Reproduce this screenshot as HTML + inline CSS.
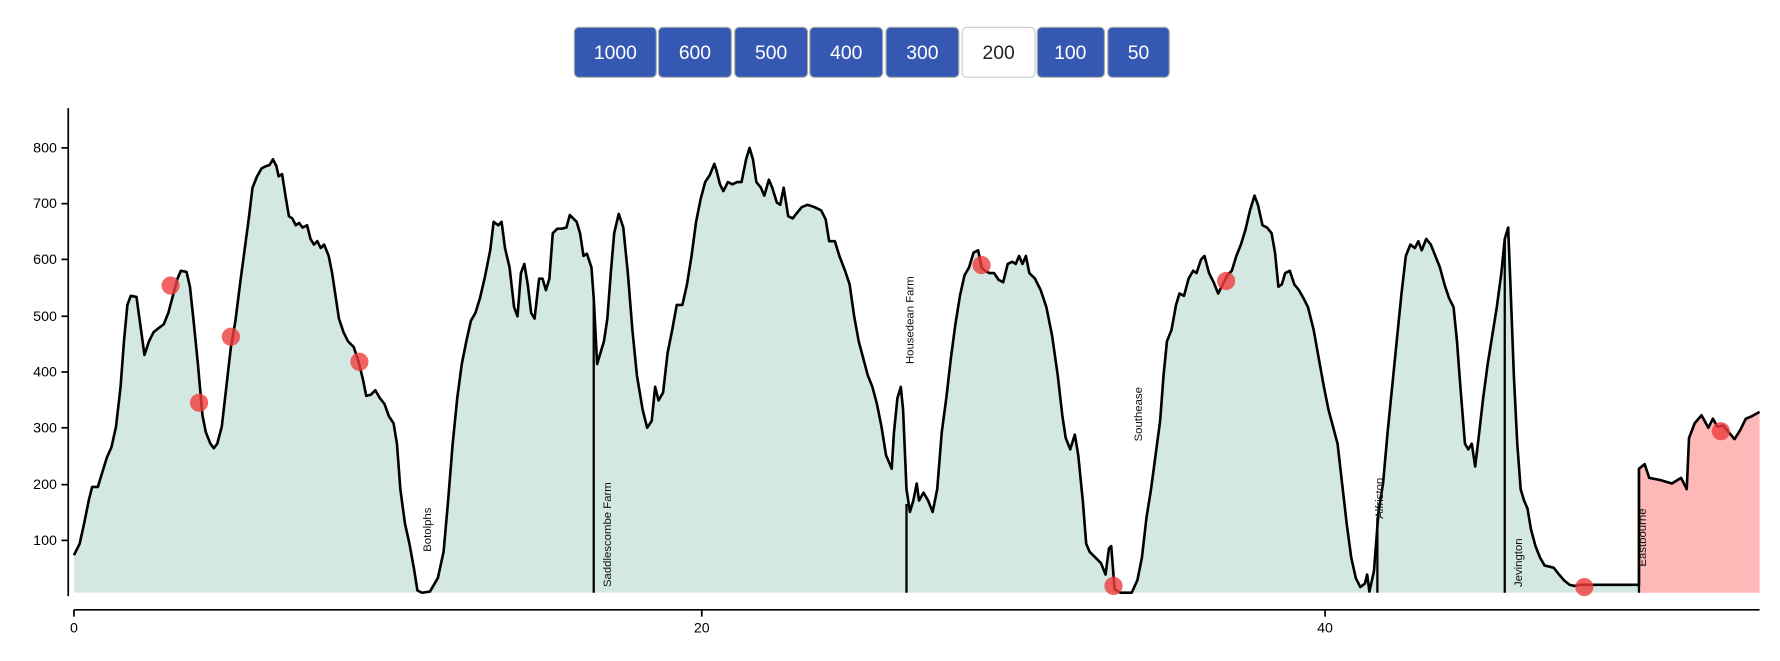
<!DOCTYPE html>
<html><head><meta charset="utf-8"><style>
html,body{margin:0;padding:0;background:#fff;}
svg{display:block;}
</style></head><body>
<svg width="1780" height="661" viewBox="0 0 1565 581" preserveAspectRatio="none" xmlns="http://www.w3.org/2000/svg" font-family="Liberation Sans, sans-serif">
<g font-size="17" text-anchor="middle">
<rect x="505" y="24" width="72" height="44" rx="4" fill="#3559b3" stroke="#aaa"/><text x="541" y="52" fill="#fff">1000</text>
<rect x="579" y="24" width="64" height="44" rx="4" fill="#3559b3" stroke="#aaa"/><text x="611" y="52" fill="#fff">600</text>
<rect x="646" y="24" width="64" height="44" rx="4" fill="#3559b3" stroke="#aaa"/><text x="678" y="52" fill="#fff">500</text>
<rect x="712" y="24" width="64" height="44" rx="4" fill="#3559b3" stroke="#aaa"/><text x="744" y="52" fill="#fff">400</text>
<rect x="779" y="24" width="64" height="44" rx="4" fill="#3559b3" stroke="#aaa"/><text x="811" y="52" fill="#fff">300</text>
<rect x="846" y="24" width="64" height="44" rx="4" fill="#fff" stroke="#ccc"/><text x="878" y="52" fill="#222">200</text>
<rect x="912" y="24" width="59" height="44" rx="4" fill="#3559b3" stroke="#aaa"/><text x="941" y="52" fill="#fff">100</text>
<rect x="974" y="24" width="54" height="44" rx="4" fill="#3559b3" stroke="#aaa"/><text x="1001" y="52" fill="#fff">50</text>
</g>
<defs>
<clipPath id="g"><rect x="65" y="0" width="1376" height="521"/></clipPath>
</defs>
<polygon clip-path="url(#g)" fill="#d3e8e2" points="65,521 65,488 70,478 74,460 78,440 81,428 86,428 90,415 94,402 98,393 102,375 106,340 109,300 112,268 115,260 120,261 124,290 127,312 131,300 135,292 140,288 144,285 148,275 152,260 156,245 159,238 164,239 167,252 170,280 174,320 178,365 181,380 185,390 188,394 191,390 195,375 199,340 203,305 207,282 211,250 215,220 219,190 222,165 226,155 230,148 234,146 237,145 240,140 243,146 245,155 248,153 251,172 254,190 257,192 260,198 263,196 266,200 270,198 273,210 276,215 279,212 282,218 285,215 289,225 292,240 295,260 298,280 302,292 306,300 311,305 315,317 319,333 322,348 326,347 330,343 334,350 338,355 342,366 346,372 349,390 352,430 356,460 360,478 364,500 367,519 371,521 378,520 385,508 390,485 394,440 398,390 402,350 406,320 410,300 414,282 418,275 422,262 426,245 431,220 434,195 438,198 441,195 444,218 448,235 452,270 455,278 458,240 461,232 464,250 467,275 470,280 474,245 477,245 480,255 483,245 486,205 490,201 494,201 498,200 501,189 504,192 507,195 510,205 513,225 516,223 520,235 522,262 525,320 528,310 531,300 534,280 537,240 540,205 544,188 548,200 552,240 556,290 560,330 565,360 569,376 573,370 576,340 579,352 583,345 587,310 591,290 595,268 600,268 604,250 608,225 612,195 616,175 620,160 624,154 628,144 630,150 633,162 636,168 640,160 644,162 648,160 652,160 656,140 659,130 662,140 665,160 669,165 672,172 676,158 679,165 683,178 686,180 689,165 693,190 697,192 700,188 705,182 710,180 716,182 722,185 726,193 729,212 734,212 738,225 743,238 747,250 751,278 755,300 759,315 763,330 767,340 771,355 775,375 779,400 784,412 786,380 789,350 792,340 794,360 797,430 800,450 803,440 806,425 808,440 812,433 816,440 820,450 824,430 828,380 832,350 836,315 840,285 844,260 848,242 852,235 856,222 860,220 863,235 866,238 870,240 874,240 878,246 882,248 886,232 890,230 893,232 896,225 899,232 902,225 905,240 910,245 915,255 920,270 925,295 930,330 934,365 937,385 941,395 945,382 948,400 952,440 955,478 958,485 963,490 968,495 972,505 975,482 977,480 980,518 985,521 995,521 1000,510 1004,490 1008,455 1012,430 1016,400 1020,370 1023,330 1026,300 1030,290 1034,268 1037,258 1041,260 1045,245 1049,238 1052,240 1056,228 1059,225 1063,240 1067,248 1071,258 1075,250 1079,242 1083,238 1087,225 1091,215 1095,202 1099,185 1103,172 1106,180 1110,198 1114,200 1118,205 1121,222 1124,252 1127,250 1130,240 1134,238 1138,250 1142,255 1146,262 1150,270 1155,290 1160,318 1164,340 1168,360 1172,375 1176,390 1180,425 1184,460 1188,490 1192,508 1196,516 1200,513 1202,505 1204,520 1208,502 1212,450 1216,425 1220,380 1224,340 1228,300 1232,260 1236,225 1240,215 1244,218 1247,212 1250,220 1254,210 1258,215 1262,225 1266,235 1270,250 1274,262 1278,270 1281,300 1284,340 1288,390 1291,395 1294,390 1297,410 1300,385 1304,350 1308,320 1312,295 1316,270 1320,240 1323,210 1326,200 1328,250 1331,330 1334,390 1337,430 1340,440 1343,447 1346,465 1350,480 1354,490 1358,497 1362,498 1366,499 1370,504 1375,510 1380,514 1384,515 1390,514 1441,514 1441,521"/>
<polygon fill="#ffb8b8" points="1441,521 1441,412 1446,408 1450,420 1460,422 1470,425 1478,420 1483,430 1485,385 1490,372 1496,365 1502,376 1506,368 1510,375 1515,374 1520,380 1525,386 1530,378 1535,368 1540,366 1547,362 1547,521"/>
<polyline fill="none" stroke="#000" stroke-width="2.3" stroke-linejoin="round" points="65,488 70,478 74,460 78,440 81,428 86,428 90,415 94,402 98,393 102,375 106,340 109,300 112,268 115,260 120,261 124,290 127,312 131,300 135,292 140,288 144,285 148,275 152,260 156,245 159,238 164,239 167,252 170,280 174,320 178,365 181,380 185,390 188,394 191,390 195,375 199,340 203,305 207,282 211,250 215,220 219,190 222,165 226,155 230,148 234,146 237,145 240,140 243,146 245,155 248,153 251,172 254,190 257,192 260,198 263,196 266,200 270,198 273,210 276,215 279,212 282,218 285,215 289,225 292,240 295,260 298,280 302,292 306,300 311,305 315,317 319,333 322,348 326,347 330,343 334,350 338,355 342,366 346,372 349,390 352,430 356,460 360,478 364,500 367,519 371,521 378,520 385,508 390,485 394,440 398,390 402,350 406,320 410,300 414,282 418,275 422,262 426,245 431,220 434,195 438,198 441,195 444,218 448,235 452,270 455,278 458,240 461,232 464,250 467,275 470,280 474,245 477,245 480,255 483,245 486,205 490,201 494,201 498,200 501,189 504,192 507,195 510,205 513,225 516,223 520,235 522,262 525,320 528,310 531,300 534,280 537,240 540,205 544,188 548,200 552,240 556,290 560,330 565,360 569,376 573,370 576,340 579,352 583,345 587,310 591,290 595,268 600,268 604,250 608,225 612,195 616,175 620,160 624,154 628,144 630,150 633,162 636,168 640,160 644,162 648,160 652,160 656,140 659,130 662,140 665,160 669,165 672,172 676,158 679,165 683,178 686,180 689,165 693,190 697,192 700,188 705,182 710,180 716,182 722,185 726,193 729,212 734,212 738,225 743,238 747,250 751,278 755,300 759,315 763,330 767,340 771,355 775,375 779,400 784,412 786,380 789,350 792,340 794,360 797,430 800,450 803,440 806,425 808,440 812,433 816,440 820,450 824,430 828,380 832,350 836,315 840,285 844,260 848,242 852,235 856,222 860,220 863,235 866,238 870,240 874,240 878,246 882,248 886,232 890,230 893,232 896,225 899,232 902,225 905,240 910,245 915,255 920,270 925,295 930,330 934,365 937,385 941,395 945,382 948,400 952,440 955,478 958,485 963,490 968,495 972,505 975,482 977,480 980,518 985,521 995,521 1000,510 1004,490 1008,455 1012,430 1016,400 1020,370 1023,330 1026,300 1030,290 1034,268 1037,258 1041,260 1045,245 1049,238 1052,240 1056,228 1059,225 1063,240 1067,248 1071,258 1075,250 1079,242 1083,238 1087,225 1091,215 1095,202 1099,185 1103,172 1106,180 1110,198 1114,200 1118,205 1121,222 1124,252 1127,250 1130,240 1134,238 1138,250 1142,255 1146,262 1150,270 1155,290 1160,318 1164,340 1168,360 1172,375 1176,390 1180,425 1184,460 1188,490 1192,508 1196,516 1200,513 1202,505 1204,520 1208,502 1212,450 1216,425 1220,380 1224,340 1228,300 1232,260 1236,225 1240,215 1244,218 1247,212 1250,220 1254,210 1258,215 1262,225 1266,235 1270,250 1274,262 1278,270 1281,300 1284,340 1288,390 1291,395 1294,390 1297,410 1300,385 1304,350 1308,320 1312,295 1316,270 1320,240 1323,210 1326,200 1328,250 1331,330 1334,390 1337,430 1340,440 1343,447 1346,465 1350,480 1354,490 1358,497 1362,498 1366,499 1370,504 1375,510 1380,514 1384,515 1390,514 1441,514 1441,412 1446,408 1450,420 1460,422 1470,425 1478,420 1483,430 1485,385 1490,372 1496,365 1502,376 1506,368 1510,375 1515,374 1520,380 1525,386 1530,378 1535,368 1540,366 1547,362"/>
<g stroke="#000" stroke-width="2">
<line x1="522" y1="262" x2="522" y2="521"/>
<line x1="797" y1="443" x2="797" y2="521"/>
<line x1="1211" y1="455" x2="1211" y2="521"/>
<line x1="1323" y1="210" x2="1323" y2="521"/>
<line x1="1441" y1="412" x2="1441" y2="521"/>
</g>
<g font-size="10" fill="#111">
<text transform="translate(379,485) rotate(-90)">Botolphs</text>
<text transform="translate(537,516) rotate(-90)">Saddlescombe Farm</text>
<text transform="translate(803,320) rotate(-90)">Housedean Farm</text>
<text transform="translate(1004,388) rotate(-90)">Southease</text>
<text transform="translate(1216,456) rotate(-90)">Alfriston</text>
<text transform="translate(1338,516) rotate(-90)">Jevington</text>
<text transform="translate(1447,498) rotate(-90)">Eastbourne</text>
</g>
<g fill="rgba(240,60,60,0.8)">
<circle cx="150" cy="251" r="8"/><circle cx="175" cy="354" r="8"/><circle cx="203" cy="296" r="8"/><circle cx="316" cy="318" r="8"/>
<circle cx="863" cy="233" r="8"/><circle cx="979" cy="515" r="8"/><circle cx="1078" cy="247" r="8"/><circle cx="1393" cy="516" r="8"/><circle cx="1513" cy="379" r="8"/>
</g>
<g stroke="#000" stroke-width="1.5" fill="none">
<line x1="60" y1="95" x2="60" y2="524"/>
<line x1="54" y1="130" x2="60" y2="130"/><line x1="54" y1="179" x2="60" y2="179"/><line x1="54" y1="228" x2="60" y2="228"/><line x1="54" y1="278" x2="60" y2="278"/>
<line x1="54" y1="327" x2="60" y2="327"/><line x1="54" y1="376" x2="60" y2="376"/><line x1="54" y1="426" x2="60" y2="426"/><line x1="54" y1="475" x2="60" y2="475"/>
<line x1="65" y1="536" x2="1547" y2="536"/>
<line x1="65" y1="536" x2="65" y2="542"/><line x1="617" y1="536" x2="617" y2="542"/><line x1="1165" y1="536" x2="1165" y2="542"/>
</g>
<g font-size="12.5" fill="#000" text-anchor="end">
<text x="50" y="134">800</text><text x="50" y="183">700</text><text x="50" y="232">600</text><text x="50" y="282">500</text>
<text x="50" y="331">400</text><text x="50" y="380">300</text><text x="50" y="430">200</text><text x="50" y="479">100</text>
</g>
<g font-size="12.5" fill="#000" text-anchor="middle">
<text x="65" y="556">0</text><text x="617" y="556">20</text><text x="1165" y="556">40</text>
</g>
</svg>
</body></html>
